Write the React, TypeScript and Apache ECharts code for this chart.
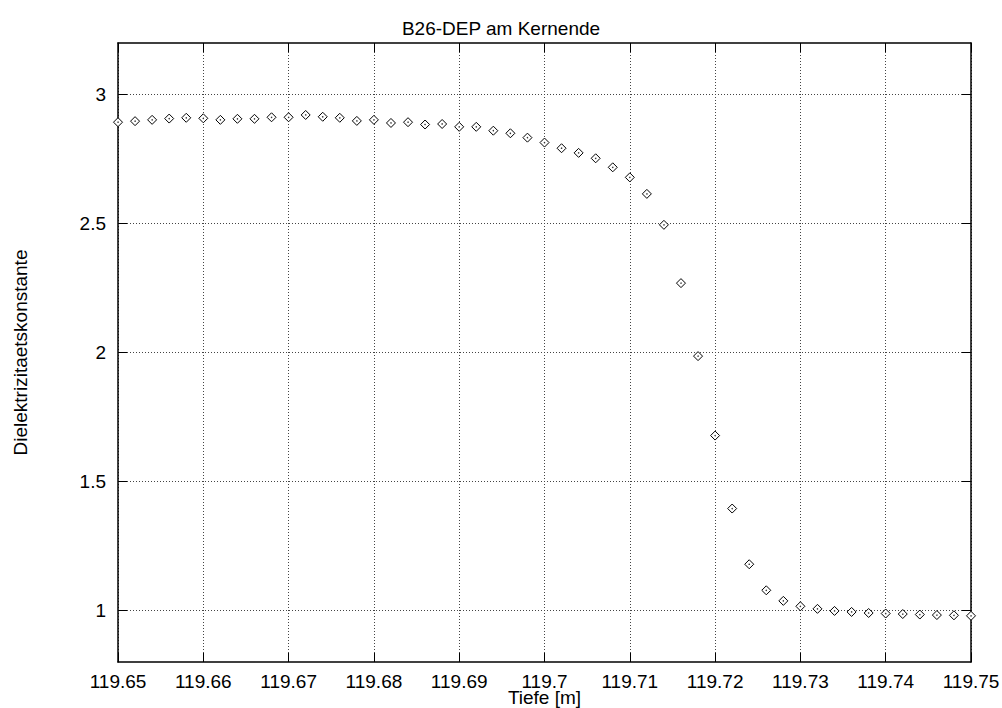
import React, { useEffect, useRef } from "react";
import * as echarts from "echarts";

const title = "B26-DEP am Kernende";
const xName = "Tiefe [m]";
const yName = "Dielektrizitaetskonstante";

const depth = [
  119.65, 119.652, 119.654, 119.656, 119.658, 119.66, 119.662, 119.664, 119.666, 119.668,
  119.67, 119.672, 119.674, 119.676, 119.678, 119.68, 119.682, 119.684, 119.686, 119.688,
  119.69, 119.692, 119.694, 119.696, 119.698, 119.7, 119.702, 119.704, 119.706, 119.708,
  119.71, 119.712, 119.714, 119.716, 119.718, 119.72, 119.722, 119.724, 119.726, 119.728,
  119.73, 119.732, 119.734, 119.736, 119.738, 119.74, 119.742, 119.744, 119.746, 119.748,
  119.75,
];

const permittivity = [
  2.893, 2.897, 2.902, 2.907, 2.91, 2.908, 2.902, 2.906, 2.906, 2.912,
  2.912, 2.921, 2.914, 2.91, 2.898, 2.902, 2.89, 2.893, 2.884, 2.886,
  2.875, 2.875, 2.86, 2.85, 2.833, 2.814, 2.792, 2.774, 2.753, 2.718,
  2.679, 2.615, 2.495, 2.269, 1.986, 1.678, 1.395, 1.179, 1.078, 1.037,
  1.016, 1.006, 0.998, 0.994, 0.99, 0.988, 0.986, 0.984, 0.982, 0.981,
  0.979,
];

const xTicks = [119.65, 119.66, 119.67, 119.68, 119.69, 119.7, 119.71, 119.72, 119.73, 119.74, 119.75];
const yTicks = [1, 1.5, 2, 2.5, 3];

const FONT = "Liberation Sans, Arial, sans-serif";

export default function App() {
  const ref = useRef<HTMLDivElement>(null);

  useEffect(() => {
    if (!ref.current) return;
    const chart = echarts.init(ref.current, undefined, { renderer: "svg" });
    const points = depth.map((d, i) => [d, permittivity[i]]);

    const gridLine = {
      show: true,
      lineStyle: { color: "#444", width: 1, type: [1, 2] as any },
    };
    const frameLine = { show: true, onZero: false, lineStyle: { color: "#000", width: 1.5 } };
    const tickStyle = { show: true, inside: true, length: 9, lineStyle: { color: "#000", width: 1 } };

    chart.setOption({
      animation: false,
      backgroundColor: "#fff",
      title: {
        text: title,
        left: "center",
        top: 14,
        textStyle: { fontFamily: FONT, fontSize: 19, fontWeight: "normal", color: "#000" },
      },
      grid: {
        left: 118,
        right: 31,
        top: 43,
        bottom: 46,
        containLabel: false,
        outerBoundsMode: "none",
      },
      xAxis: [
        {
          type: "value",
          position: "bottom",
          min: 119.65,
          max: 119.75,
          name: xName,
          nameLocation: "middle",
          nameGap: 26,
          nameMoveOverlap: false,
          nameTextStyle: { fontFamily: FONT, fontSize: 19, color: "#000" },
          axisLine: frameLine,
          axisTick: { ...tickStyle, customValues: xTicks },
          axisLabel: {
            customValues: xTicks,
            margin: 10,
            fontFamily: FONT,
            fontSize: 19,
            color: "#000",
            formatter: (v: number) => String(parseFloat(v.toFixed(4))),
          },
          splitLine: gridLine,
        },
        {
          type: "value",
          position: "top",
          min: 119.65,
          max: 119.75,
          axisLine: frameLine,
          axisTick: { ...tickStyle, customValues: xTicks },
          axisLabel: { show: false, customValues: xTicks },
          splitLine: { show: false },
        },
      ],
      yAxis: [
        {
          type: "value",
          position: "left",
          min: 0.8,
          max: 3.2,
          name: yName,
          nameLocation: "middle",
          nameGap: 88,
          nameRotate: 90,
          nameMoveOverlap: false,
          nameTextStyle: { fontFamily: FONT, fontSize: 19, color: "#000" },
          axisLine: frameLine,
          axisTick: { ...tickStyle, customValues: yTicks },
          axisLabel: {
            customValues: yTicks,
            margin: 12,
            fontFamily: FONT,
            fontSize: 19,
            color: "#000",
            formatter: (v: number) => String(parseFloat(v.toFixed(4))),
          },
          splitLine: gridLine,
        },
        {
          type: "value",
          position: "right",
          min: 0.8,
          max: 3.2,
          axisLine: frameLine,
          axisTick: { ...tickStyle, customValues: yTicks },
          axisLabel: { show: false, customValues: yTicks },
          splitLine: { show: false },
        },
      ],
      series: [
        {
          type: "scatter",
          xAxisIndex: 0,
          yAxisIndex: 0,
          data: points,
          symbol: "diamond",
          symbolSize: 9,
          itemStyle: { color: "#fff", borderColor: "#000", borderWidth: 1, opacity: 1 },
          z: 3,
        },
        {
          type: "scatter",
          xAxisIndex: 0,
          yAxisIndex: 0,
          data: points,
          symbol: "circle",
          symbolSize: 1.5,
          itemStyle: { color: "#000" },
          z: 4,
        },
      ],
    });

    return () => chart.dispose();
  }, []);

  return (
    <div
      ref={ref}
      style={{ position: "absolute", left: 0, top: 0, width: 1002, height: 708, background: "#fff" }}
    />
  );
}
